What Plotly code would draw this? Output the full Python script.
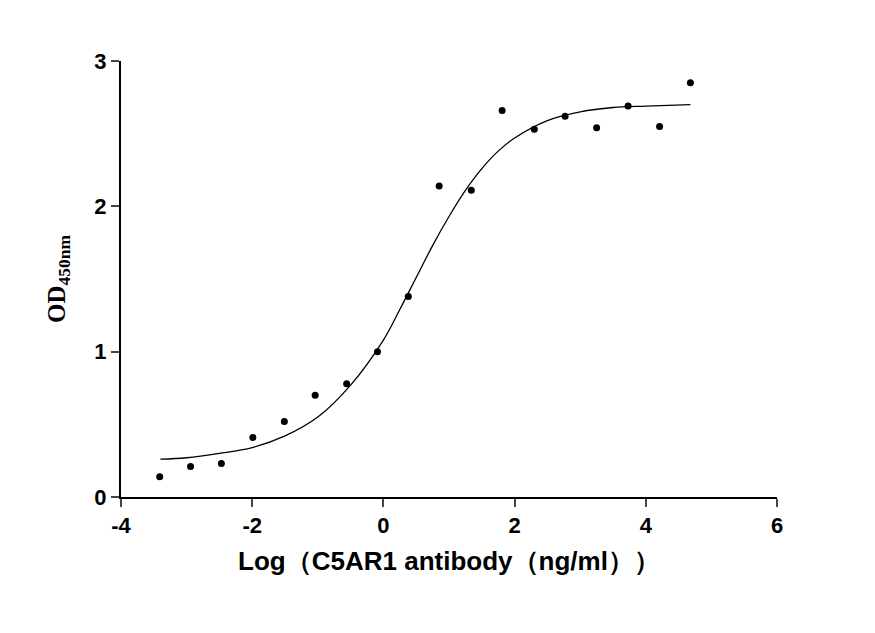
import plotly.graph_objects as go

pt_x = [-3.41, -2.94, -2.47, -1.99, -1.51, -1.04, -0.56, -0.09, 0.38, 0.85, 1.34, 1.81, 2.30, 2.77, 3.25, 3.73, 4.21, 4.68]
pt_y = [0.14, 0.21, 0.23, 0.41, 0.52, 0.70, 0.78, 1.00, 1.38, 2.14, 2.11, 2.66, 2.53, 2.62, 2.54, 2.69, 2.55, 2.85]

fit_x = [-3.4, -3.0, -2.5, -2.0, -1.5, -1.0, -0.5, 0.0, 0.25, 0.5, 0.75, 1.0, 1.25, 1.5, 1.75, 2.0, 2.5, 3.0, 3.5, 4.0, 4.68]
fit_y = [0.26, 0.27, 0.30, 0.34, 0.42, 0.55, 0.77, 1.08, 1.29, 1.51, 1.73, 1.93, 2.11, 2.26, 2.38, 2.47, 2.59, 2.65, 2.68, 2.69, 2.70]

fig = go.Figure()
fig.add_trace(go.Scatter(x=fit_x, y=fit_y, mode="lines", line=dict(color="black", width=1.3, shape="spline"), showlegend=False))
fig.add_trace(go.Scatter(x=pt_x, y=pt_y, mode="markers", marker=dict(color="black", size=7), showlegend=False))

axfont = dict(family="Arial", size=22, color="black")
fig.update_layout(
    width=875, height=633, plot_bgcolor="white", paper_bgcolor="white",
    margin=dict(l=113, r=106, t=53, b=144),
    font=dict(family="Arial", color="black"),
    xaxis=dict(range=[-4, 6], tickvals=[-4, -2, 0, 2, 4, 6], ticktext=["<b>-4</b>", "<b>-2</b>", "<b>0</b>", "<b>2</b>", "<b>4</b>", "<b>6</b>"],
               showline=True, linecolor="black", linewidth=2, ticks="outside", ticklen=8, tickwidth=2,
               showgrid=False, zeroline=False, tickfont=axfont,
               title=dict(text="<b>Log（C5AR1 antibody（ng/ml））</b>", font=dict(family="Arial", size=26, color="black"), standoff=14)),
    yaxis=dict(range=[0, 3], tickvals=[0, 1, 2, 3], ticktext=["<b>0</b>", "<b>1</b>", "<b>2</b>", "<b>3</b>"],
               showline=True, linecolor="black", linewidth=2, ticks="outside", ticklen=8, tickwidth=2,
               showgrid=False, zeroline=False, tickfont=axfont,
               title=dict(text="<b>OD<sub>450nm</sub></b>", font=dict(family="Times New Roman, Liberation Serif", size=25, color="black"), standoff=22)),
)
fig.write_html("out.html")
